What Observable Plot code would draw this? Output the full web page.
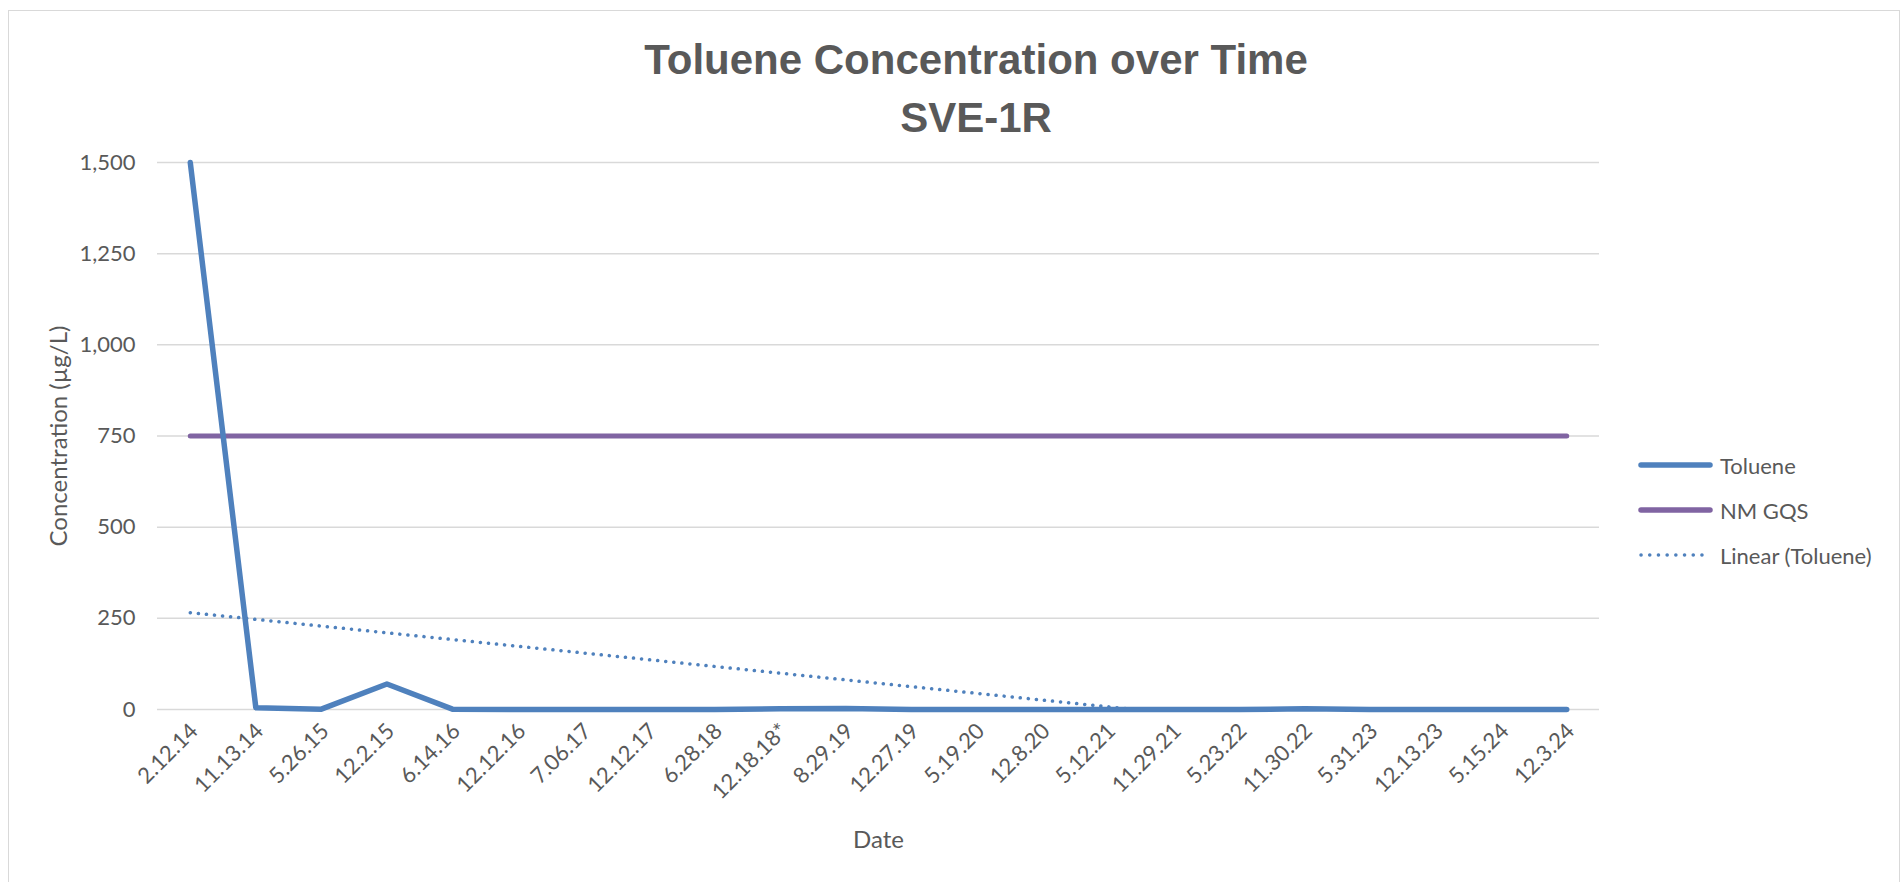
<!DOCTYPE html>
<html><head><meta charset="utf-8">
<script src="https://cdn.jsdelivr.net/npm/d3@7"></script>
<script src="https://cdn.jsdelivr.net/npm/@observablehq/plot@0.6"></script>
<style>
body{margin:0;background:#fff;}
#wrap{position:relative;width:1904px;height:882px;overflow:hidden;font-family:Lato,"Open Sans",sans-serif;color:#595959;}
#frame{position:absolute;left:8px;top:10px;width:1892px;height:880px;border:1.5px solid #d9d9d9;box-sizing:border-box;}
.title{position:absolute;left:0;width:1952px;text-align:center;font-family:"Liberation Sans",Arial,sans-serif;font-weight:bold;font-size:42px;color:#595959;line-height:42px;white-space:nowrap;}
#chart{position:absolute;left:0;top:0;}
.leg{position:absolute;left:1638px;height:30px;display:flex;align-items:center;font-size:22px;color:#595959;white-space:nowrap;}
.leg svg{margin-right:6px;}
</style>
</head><body>
<div id="wrap">
  <div id="frame"></div>
  <div id="chart"></div>
  <div class="title" style="top:39px">Toluene Concentration over Time</div>
  <div class="title" style="top:97px">SVE-1R</div>
  <div id="legend"></div>
</div>
<script>
const dates = ["2.12.14","11.13.14","5.26.15","12.2.15","6.14.16","12.12.16","7.06.17","12.12.17","6.28.18","12.18.18*","8.29.19","12.27.19","5.19.20","12.8.20","5.12.21","11.29.21","5.23.22","11.30.22","5.31.23","12.13.23","5.15.24","12.3.24"];
const toluene = [1500,5,1,70,1,0,0,0,0,2,3,0,0,0,0,0,0,2,0,0,0,0];
const nmGqs = [750,750,750,750,750,750,750,750,750,750,750,750,750,750,750,750,750,750,750,750,750,750];
const yTicks = [0,250,500,750,1000,1250,1500];
const seriesNames = ["Toluene","NM GQS","Linear (Toluene)"];
const colors = {toluene:"#4f81bd", gqs:"#8064a2"};

const rows = dates.map((d,i)=>({i, date:d, tol:toluene[i], gqs:nmGqs[i]}));

const chart = Plot.plot({
  width:1904, height:882,
  marginLeft:157, marginRight:305, marginTop:162, marginBottom:173,
  style:{fontFamily:"Lato, 'Open Sans', sans-serif", fontSize:"21px", color:"#595959", background:"transparent", overflow:"visible"},
  x:{type:"linear", domain:[-0.5, dates.length-0.5]},
  y:{domain:[0,1500]},
  marks:[
    Plot.gridY(yTicks,{stroke:"#d9d9d9", strokeOpacity:1, strokeWidth:1.5}),
    Plot.axisY(yTicks,{tickSize:0, tickPadding:22, tickFormat:d3.format(","), fontSize:22, label:null}),
    Plot.axisX(d3.range(dates.length),{tickSize:0, tickRotate:-45, tickPadding:18, dx:4, tickFormat:i=>dates[i], fontSize:22, label:null}),
    Plot.text(["Concentration (µg/L)"],{frameAnchor:"left", dx:-98, rotate:-90, textAnchor:"middle", lineAnchor:"middle", fontSize:24, fill:"#595959"}),
    Plot.text(["Date"],{frameAnchor:"bottom", dy:131, textAnchor:"middle", lineAnchor:"middle", fontSize:24, fill:"#595959"}),
    Plot.line(rows,{x:"i", y:"gqs", stroke:colors.gqs, strokeWidth:5, strokeLinecap:"round"}),
    Plot.line(rows,{x:"i", y:"tol", stroke:colors.toluene, strokeWidth:5.5, strokeLinejoin:"round", strokeLinecap:"round"}),
    Plot.linearRegressionY(rows,{x:"i", y:"tol", ci:0, stroke:colors.toluene, strokeWidth:3.5, strokeDasharray:"0.1 8", strokeLinecap:"round", clip:true})
  ]
});
document.getElementById("chart").appendChild(chart);

const legend = document.getElementById("legend");
const legY = [465,510,555];
seriesNames.forEach((name,k)=>{
  const div = document.createElement("div");
  div.className = "leg";
  div.style.top = (legY[k]-15)+"px";
  const col = k===1 ? colors.gqs : colors.toluene;
  const line = k===2
    ? `<line x1="3" y1="6" x2="72" y2="6" stroke="${col}" stroke-width="3.5" stroke-linecap="round" stroke-dasharray="0.1 8.6"/>`
    : `<line x1="3" y1="6" x2="72" y2="6" stroke="${col}" stroke-width="5.5" stroke-linecap="round"/>`;
  div.innerHTML = `<svg width="76" height="12">${line}</svg><span>${name}</span>`;
  legend.appendChild(div);
});
</script>
</body></html>
